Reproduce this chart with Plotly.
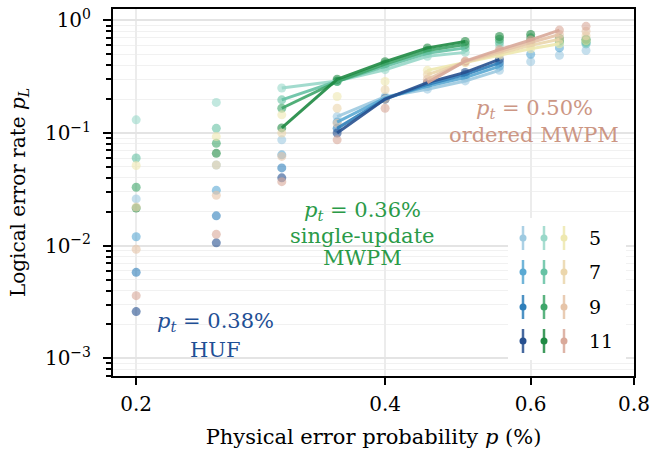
import plotly.graph_objects as go
import math

# ---------------- data ----------------
p_vals = [0.2, 0.25, 0.3, 0.35, 0.4, 0.45, 0.5, 0.55, 0.6, 0.65, 0.7]
distances = [5, 7, 9, 11]

huf_d5 = [0.026, 0.052, 0.087, 0.14, 0.21, 0.245, 0.29, 0.36, 0.43, 0.49, 0.54]
huf_d7 = [0.012, 0.031, 0.064, 0.125, 0.205, 0.26, 0.31, 0.39, 0.50, 0.57, 0.62]
huf_d9 = [0.0058, 0.0184, 0.049, 0.11, 0.20, 0.27, 0.33, 0.42, None, None, None]
huf_d11 = [0.0026, 0.0106, 0.040, 0.10, 0.20, 0.28, 0.345, 0.45, None, None, None]

su_d5 = [0.131, 0.187, 0.251, 0.29, 0.365, 0.48, 0.52, 0.60, 0.62, 0.62, 0.62]
su_d7 = [0.060, 0.110, 0.197, 0.288, 0.39, 0.51, 0.57, 0.64, 0.66, 0.64, 0.64]
su_d9 = [0.033, 0.081, 0.166, 0.286, 0.41, 0.54, 0.61, 0.68, 0.70, 0.66, 0.66]
su_d11 = [0.0216, 0.066, 0.111, 0.30, 0.43, 0.57, 0.65, 0.72, 0.75, 0.69, 0.68]

ord_d5 = [0.0515, 0.093, 0.145, 0.211, 0.287, 0.36, 0.42, 0.49, 0.56, 0.62, 0.66]
ord_d7 = [0.022, 0.052, 0.100, 0.166, 0.242, 0.33, 0.425, 0.51, 0.60, 0.68, 0.73]
ord_d9 = [0.0093, 0.028, 0.062, 0.122, 0.20, 0.30, 0.43, 0.53, 0.64, 0.75, 0.80]
ord_d11 = [0.0036, 0.0126, 0.037, 0.087, 0.166, 0.28, 0.435, 0.55, 0.67, 0.82, 0.885]

huf_fit = (0.35, 0.55)
su_fit = (0.3, 0.5)
ord_fit = (0.45, 0.65)

x_ticks = [0.2, 0.4, 0.6, 0.8]
x_ticklabels = ["0.2", "0.4", "0.6", "0.8"]
y_ticks = [1e-3, 1e-2, 1e-1, 1]
y_ticklabels = ["10<sup>−3</sup>", "10<sup>−2</sup>", "10<sup>−1</sup>", "10<sup>0</sup>"]
y_minor = [k * 10.0 ** e for e in (-4, -3, -2, -1, 0) for k in range(2, 10)]

huf_colors = ["#9ecae1", "#5aa9d3", "#2f7fba", "#27508f"]
su_colors = ["#99d8c9", "#66c2a4", "#3fa66a", "#1f8a43"]
ord_colors = ["#eee8b0", "#ebd6ac", "#e6c4a8", "#d9a99a"]

decoders = [
    ("HUF", [huf_d5, huf_d7, huf_d9, huf_d11], huf_colors, huf_fit),
    ("single-update MWPM", [su_d5, su_d7, su_d9, su_d11], su_colors, su_fit),
    ("ordered MWPM", [ord_d5, ord_d7, ord_d9, ord_d11], ord_colors, ord_fit),
]

FONT = "DejaVu Serif"

fig = go.Figure()

# markers
for name, series, colors, fit in decoders:
    for d, ys, c in zip(distances, series, colors):
        xs = [p for p, y in zip(p_vals, ys) if y is not None]
        yy = [y for y in ys if y is not None]
        fig.add_trace(go.Scatter(x=xs, y=yy, mode="markers",
                                 marker=dict(size=9, color=c, opacity=0.6, line=dict(width=0)),
                                 showlegend=False, name=f"{name} d={d}", hoverinfo="x+y"))
# fit lines
for name, series, colors, fit in decoders:
    for d, ys, c in zip(distances, series, colors):
        sel = [(p, y) for p, y in zip(p_vals, ys) if y is not None and fit[0] - 1e-9 <= p <= fit[1] + 1e-9]
        fig.add_trace(go.Scatter(x=[s[0] for s in sel], y=[s[1] for s in sel], mode="lines",
                                 line=dict(width=3, color=c), opacity=0.9,
                                 showlegend=False, hoverinfo="skip"))

# plot-area geometry in pixels (for legend placement)
L, R, T, B = 113, 634, 9, 376
W, H = 652, 453
def px(xp):
    return (xp - L) / (R - L)
def py(yp):
    return (B - yp) / (B - T)

shapes = []
shapes.append(dict(type="rect", xref="paper", yref="paper",
                   x0=px(508), x1=px(626), y0=py(360), y1=py(218),
                   fillcolor="white", line=dict(width=0), layer="above"))
leg_cols = [523, 544, 564]
leg_rows = [238, 272, 307, 341]
annotations = []
for ci, (name, series, colors, fit) in enumerate(decoders):
    for ri, c in enumerate(colors):
        cx, cy = leg_cols[ci], leg_rows[ri]
        shapes.append(dict(type="line", xref="paper", yref="paper",
                           x0=px(cx), x1=px(cx), y0=py(cy - 12), y1=py(cy + 12),
                           line=dict(color=c, width=2.5), opacity=0.85, layer="above"))
        shapes.append(dict(type="circle", xref="paper", yref="paper",
                           x0=px(cx - 3.5), x1=px(cx + 3.5), y0=py(cy + 3.5), y1=py(cy - 3.5),
                           fillcolor=c, line=dict(width=0), layer="above"))
for ri, d in enumerate(distances):
    annotations.append(dict(xref="paper", yref="paper", x=px(587), y=py(leg_rows[ri]),
                            text=str(d), showarrow=False, xanchor="left", yanchor="middle",
                            font=dict(family=FONT, size=19, color="black")))

def add_label(lines, cx, ys, color):
    for t, yy in zip(lines, ys):
        annotations.append(dict(xref="paper", yref="paper", x=px(cx), y=py(yy), text=t,
                                showarrow=False, xanchor="center", yanchor="middle",
                                font=dict(family=FONT, size=21, color=color)))

add_label(["<i>p</i><sub><i>t</i></sub> = 0.38%", "HUF"], 215, [322, 350], "#1f4f95")
add_label(["<i>p</i><sub><i>t</i></sub> = 0.36%", "single-update", "MWPM"], 362, [211, 236, 258], "#2a9a48")
add_label(["<i>p</i><sub><i>t</i></sub> = 0.50%", "ordered MWPM"], 534, [109, 135], "#cc9684")

fig.update_layout(
    width=W, height=H,
    margin=dict(l=L, r=W - R, t=T, b=H - B, autoexpand=False),
    paper_bgcolor="white", plot_bgcolor="white",
    font=dict(family=FONT, size=19, color="black"),
    shapes=shapes, annotations=annotations,
    showlegend=False,
)
fig.update_xaxes(
    type="log", range=[math.log10(0.1875), math.log10(0.8)],
    tickvals=x_ticks, ticktext=x_ticklabels, automargin=False,
    ticks="outside", ticklen=7, tickwidth=2, tickcolor="black", ticklabelstandoff=2,
    showline=True, linecolor="black", linewidth=2, mirror=True,
    showgrid=True, gridcolor="#ececec", gridwidth=1.5, zeroline=False,
    title=dict(text="Physical error probability <i>p</i> (%)", font=dict(family=FONT, size=21), standoff=14),
    tickfont=dict(family=FONT, size=20),
)
fig.update_yaxes(
    type="log", range=[-3.157, 0.101],
    tickvals=y_ticks, ticktext=y_ticklabels, automargin=False,
    ticks="outside", ticklen=8, tickwidth=2, tickcolor="black", ticklabelstandoff=8,
    showline=True, linecolor="black", linewidth=2, mirror=True,
    showgrid=True, gridcolor="#e4e4e4", gridwidth=1.5, zeroline=False,
    minor=dict(tickmode="array", tickvals=y_minor, ticks="outside", ticklen=5, tickwidth=1.5,
               tickcolor="black", showgrid=True, gridcolor="#f1f1f1", gridwidth=1),
    title=dict(text="Logical error rate <i>p</i><sub><i>L</i></sub>", font=dict(family=FONT, size=20), standoff=14),
    tickfont=dict(family=FONT, size=20),
)

fig.write_html("out.html", config={"displayModeBar": False},
               post_script="document.body.style.margin='0';document.body.style.padding='0';")
